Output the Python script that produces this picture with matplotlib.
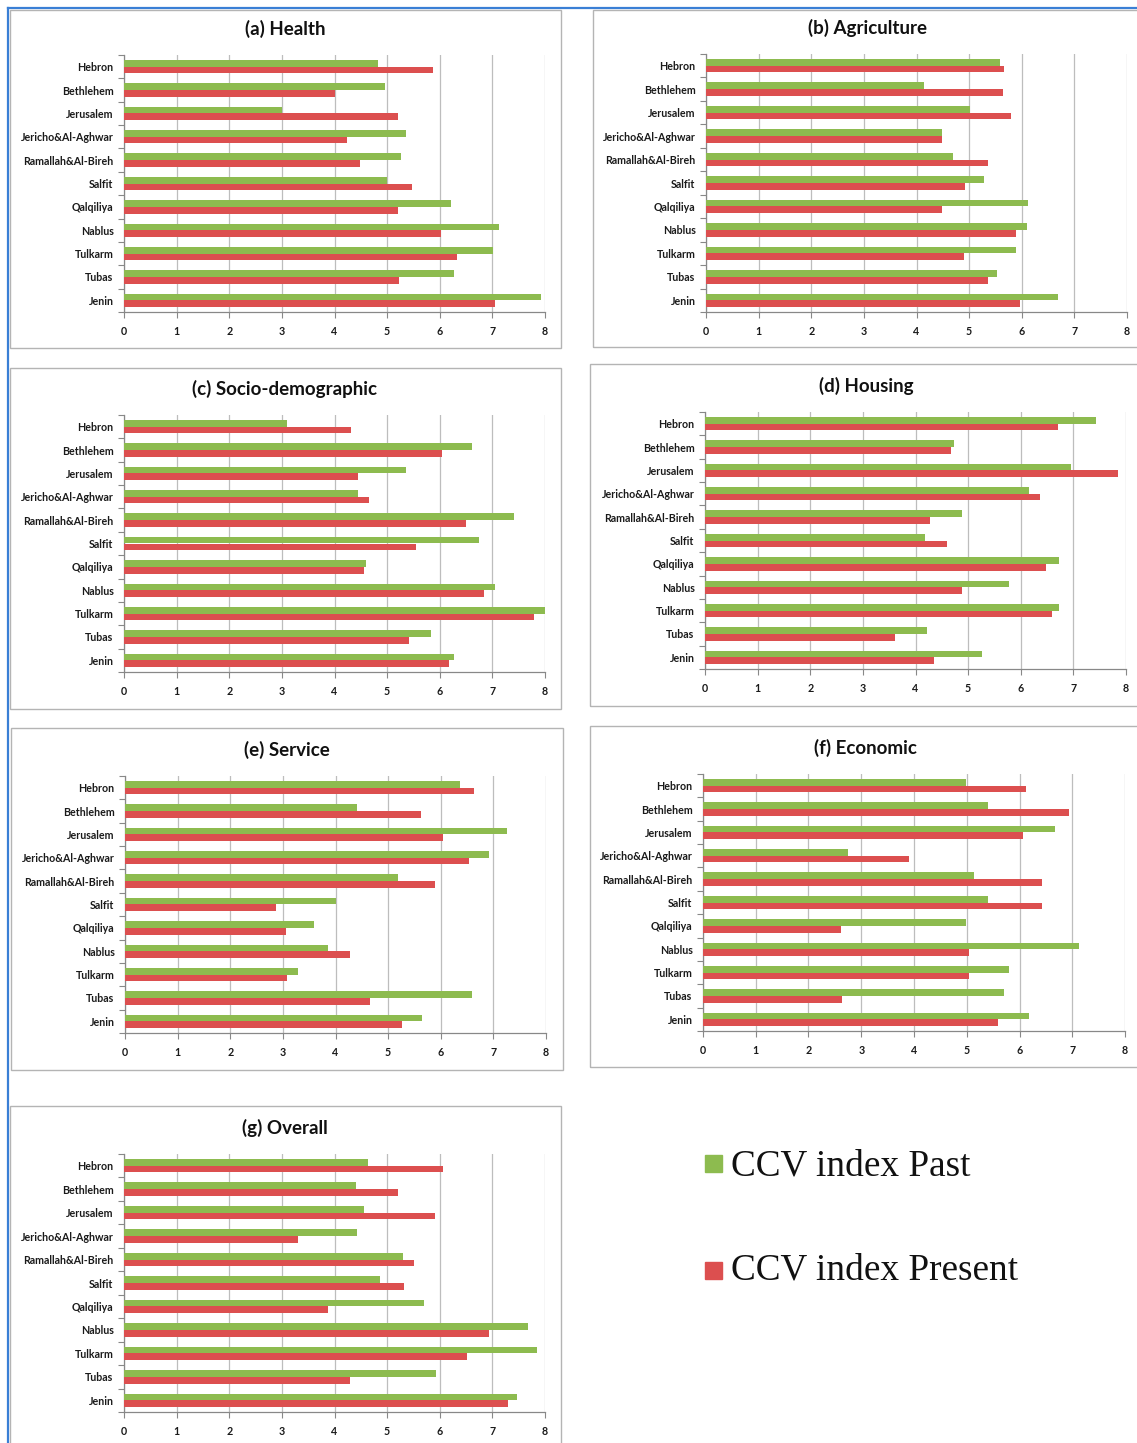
import numpy as np
import matplotlib
matplotlib.use("Agg")
import matplotlib.pyplot as plt
from matplotlib.patches import Rectangle
from matplotlib.lines import Line2D

W, H = 1137, 1443

districts = ["Hebron", "Bethlehem", "Jerusalem", "Jericho&Al-Aghwar", "Ramallah&Al-Bireh",
             "Salfit", "Qalqiliya", "Nablus", "Tulkarm", "Tubas", "Jenin"]

health_past = [4.82, 4.96, 3.00, 5.36, 5.27, 5.00, 6.22, 7.12, 7.01, 6.27, 7.92]
health_present = [5.88, 4.00, 5.21, 4.23, 4.49, 5.48, 5.21, 6.03, 6.32, 5.22, 7.05]

agri_past = [5.59, 4.14, 5.02, 4.48, 4.70, 5.28, 6.11, 6.10, 5.90, 5.53, 6.69]
agri_present = [5.66, 5.65, 5.80, 4.48, 5.35, 4.93, 4.48, 5.90, 4.91, 5.36, 5.96]

socio_past = [3.10, 6.62, 5.35, 4.44, 7.41, 6.74, 4.60, 7.05, 8.00, 5.84, 6.28]
socio_present = [4.32, 6.05, 4.44, 4.66, 6.49, 5.54, 4.56, 6.84, 7.79, 5.41, 6.18]

housing_past = [7.43, 4.74, 6.95, 6.15, 4.88, 4.18, 6.73, 5.78, 6.73, 4.22, 5.26]
housing_present = [6.70, 4.68, 7.84, 6.37, 4.28, 4.60, 6.48, 4.88, 6.60, 3.61, 4.36]

service_past = [6.36, 4.41, 7.26, 6.92, 5.18, 4.00, 3.60, 3.86, 3.28, 6.60, 5.64]
service_present = [6.63, 5.62, 6.04, 6.54, 5.89, 2.86, 3.06, 4.28, 3.08, 4.65, 5.27]

econ_past = [4.99, 5.40, 6.68, 2.74, 5.14, 5.40, 4.99, 7.12, 5.80, 5.71, 6.18]
econ_present = [6.12, 6.93, 6.06, 3.90, 6.42, 6.42, 2.61, 5.05, 5.05, 2.63, 5.59]

overall_past = [4.63, 4.40, 4.56, 4.43, 5.30, 4.87, 5.70, 7.67, 7.85, 5.93, 7.46]
overall_present = [6.06, 5.21, 5.91, 3.31, 5.52, 5.32, 3.88, 6.94, 6.51, 4.30, 7.30]

series_names = ["CCV index Past", "CCV index Present"]

GREEN = "#8DBB4F"
RED = "#DC4F4F"

# (title, past, present, frame box, plot area) -- boxes in pixels: x0, y0, x1, y1
panels = [
    ("(a) Health", health_past, health_present, (10, 10, 561, 348), (124, 55, 545, 312)),
    ("(b) Agriculture", agri_past, agri_present, (593, 10, 1150, 347), (706, 54, 1127, 312)),
    ("(c) Socio-demographic", socio_past, socio_present, (10, 368, 561, 709), (124, 415, 545, 672)),
    ("(d) Housing", housing_past, housing_present, (590, 364, 1150, 706), (705, 412, 1126, 669)),
    ("(e) Service", service_past, service_present, (11, 728, 563, 1070), (125, 776, 546, 1033)),
    ("(f) Economic", econ_past, econ_present, (590, 726, 1150, 1067), (703, 774, 1125, 1031)),
    ("(g) Overall", overall_past, overall_present, (10, 1106, 561, 1460), (124, 1154, 545, 1412)),
]
title_x = [285, 867, 285, 866, 287, 865, 285]

plt.rcParams["font.family"] = ["Lato", "DejaVu Sans"]

fig = plt.figure(figsize=(W / 100, H / 100), dpi=100)


def frac(x0, y0, x1, y1):
    return [x0 / W, 1 - y1 / H, (x1 - x0) / W, (y1 - y0) / H]


# blue page border on the left and top
fig.add_artist(Line2D([8 / W, 8 / W], [0, 1 - 8 / H], color="#3a7fd5", lw=1.6))
fig.add_artist(Line2D([8 / W, 1], [1 - 8 / H, 1 - 8 / H], color="#3a7fd5", lw=1.6))

y = np.arange(len(districts))
bh = 0.285

for (title, past, present, box, area), tx in zip(panels, title_x):
    l, b, w, h = frac(*box)
    fig.add_artist(Rectangle((l, b), w, h, transform=fig.transFigure,
                             fill=False, edgecolor="#b4b4b4", lw=1.0))
    ax = fig.add_axes(frac(*area))
    ax.barh(y - bh / 2, past, height=bh, color=GREEN, zorder=3)
    ax.barh(y + bh / 2, present, height=bh, color=RED, zorder=3)
    ax.set_xlim(0, 8)
    ax.set_ylim(len(districts) - 0.5, -0.5)
    ax.set_xticks(range(9))
    ax.set_yticks(y)
    ax.set_yticklabels(districts)
    ax.set_yticks(np.arange(-0.5, len(districts)), minor=True)
    ax.tick_params(axis="y", which="major", length=0, pad=7.5, labelsize=7.7)
    ax.tick_params(axis="y", which="minor", length=4, color="#888888", width=0.8)
    ax.tick_params(axis="x", length=4, color="#888888", width=0.8, pad=6, labelsize=7.7)
    for lab in ax.get_xticklabels() + ax.get_yticklabels():
        lab.set_fontweight("bold")
        lab.set_color("#1a1a1a")
    ax.grid(axis="x", color="#bdbdbd", lw=0.9, zorder=0)
    for s in ("top", "right"):
        ax.spines[s].set_visible(False)
    for s in ("left", "bottom"):
        ax.spines[s].set_color("#888888")
        ax.spines[s].set_linewidth(0.9)
    fig.text(tx / W, 1 - (area[1] - 26) / H, title, ha="center", va="center",
             fontsize=13.5, fontweight="bold", color="#111111")

# legend: coloured squares with large serif labels
for name, color, top, base in zip(series_names, [GREEN, RED], [1155, 1262], [1176, 1279]):
    fig.add_artist(Rectangle((705 / W, 1 - (top + 17) / H), 17 / W, 17 / H,
                             transform=fig.transFigure, color=color))
    fig.text(731 / W, 1 - base / H, name, ha="left", va="baseline",
             family="Liberation Serif", fontsize=26.8, color="#111111")

fig.savefig("out.png", dpi=100, facecolor="white")
